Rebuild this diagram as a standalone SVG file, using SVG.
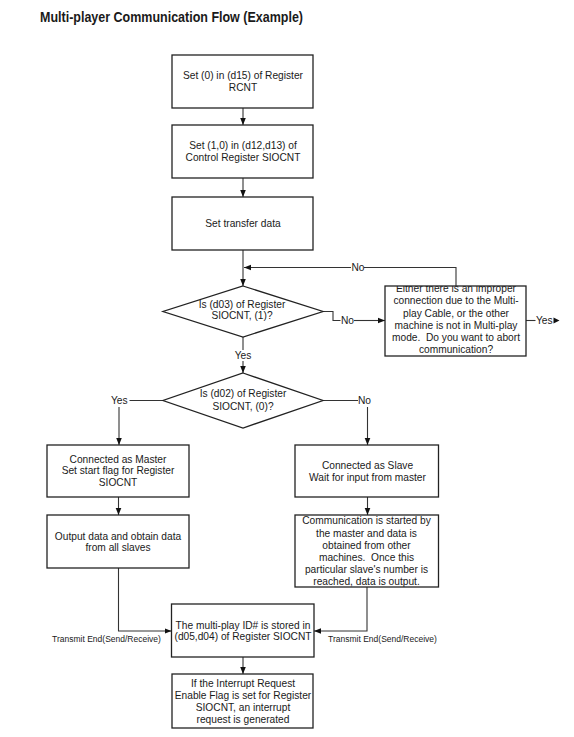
<svg xmlns="http://www.w3.org/2000/svg" width="574" height="737" viewBox="0 0 574 737">
<style>
text{font-family:"Liberation Sans",Arial,sans-serif;fill:#1a1a1a}
.t{font-size:10.2px;text-anchor:middle}
.l{font-size:10.2px}
.s{font-size:8.5px;text-anchor:middle}
.box{fill:#fff;stroke:#222;stroke-width:1.3}
.bd{fill:none;stroke:#222;stroke-width:1.3}
.c{fill:none;stroke:#333;stroke-width:1.1}
</style>
<defs>
<marker id="ah" viewBox="0 0 10 10" refX="10" refY="5" markerWidth="7" markerHeight="7" orient="auto" markerUnits="userSpaceOnUse"><path d="M0,1 L10,5 L0,9 z" fill="#111"/></marker>
<clipPath id="clipR1"><rect x="385" y="286" width="141" height="70"/></clipPath>
<clipPath id="clipR2"><rect x="295" y="515" width="143.5" height="72"/></clipPath>
</defs>
<rect width="574" height="737" fill="#fff"/>
<text x="40" y="22" font-size="13.8" font-weight="bold" textLength="263" lengthAdjust="spacingAndGlyphs">Multi-player Communication Flow (Example)</text>

<g id="connectors">
<line class="c" x1="243" y1="108" x2="243" y2="125" marker-end="url(#ah)"/>
<line class="c" x1="243" y1="178" x2="243" y2="197" marker-end="url(#ah)"/>
<line class="c" x1="243" y1="250" x2="243" y2="286" marker-end="url(#ah)"/>
<polyline class="c" points="456,286 456,267.5 364,267.5"/>
<line class="c" x1="351" y1="267.5" x2="244" y2="267.5" marker-end="url(#ah)"/>
<text class="l" x="351.5" y="271.1">No</text>
<polyline class="c" points="323,311.5 333,311.5 333,320.5 340.5,320.5"/>
<text class="l" x="341" y="324.1">No</text>
<line class="c" x1="354" y1="320.5" x2="385" y2="320.5" marker-end="url(#ah)"/>
<line class="c" x1="526" y1="320.5" x2="535.5" y2="320.5"/>
<text class="l" x="536" y="324.1">Yes</text>
<path d="M553.5,317.5 L559.5,320.5 L553.5,323.5 z" fill="#111"/>
<line class="c" x1="243" y1="337" x2="243" y2="350"/>
<text class="t" x="243" y="358.6">Yes</text>
<line class="c" x1="243" y1="361" x2="243" y2="373" marker-end="url(#ah)"/>
<line class="c" x1="163" y1="400.5" x2="129.5" y2="400.5"/>
<text class="l" x="111" y="404.1">Yes</text>
<line class="c" x1="119" y1="407" x2="119" y2="445" marker-end="url(#ah)"/>
<line class="c" x1="323" y1="400.5" x2="358" y2="400.5"/>
<text class="l" x="358" y="404.1">No</text>
<line class="c" x1="367.5" y1="407" x2="367.5" y2="445" marker-end="url(#ah)"/>
<line class="c" x1="118.5" y1="497" x2="118.5" y2="515" marker-end="url(#ah)"/>
<line class="c" x1="367.5" y1="497" x2="367.5" y2="515" marker-end="url(#ah)"/>
<polyline class="c" points="118.5,568 118.5,631 171.5,631" marker-end="url(#ah)"/>
<polyline class="c" points="367,587 367,631 314,631" marker-end="url(#ah)"/>
<text class="s" x="106.5" y="642.3">Transmit End(Send/Receive)</text>
<text class="s" x="382.5" y="642.3">Transmit End(Send/Receive)</text>
<line class="c" x1="243" y1="657" x2="243" y2="674" marker-end="url(#ah)"/>
</g>

<g id="n1">
<rect class="box" x="172" y="55" width="141" height="53"/>
<text class="t" x="243" y="79.3">Set (0) in (d15) of Register</text>
<text class="t" x="243" y="90.6">RCNT</text>
</g>
<g id="n2">
<rect class="box" x="172" y="125" width="141" height="53"/>
<text class="t" x="243" y="149.3">Set (1,0) in (d12,d13) of</text>
<text class="t" x="243" y="161.3">Control Register SIOCNT</text>
</g>
<g id="n3">
<rect class="box" x="172" y="197" width="141" height="53"/>
<text class="t" x="243" y="226.6">Set transfer data</text>
</g>
<g id="d1">
<polygon class="box" points="243,286 323,311.5 243,337 163,311.5"/>
<text class="t" x="242" y="307.8">Is (d03) of Register</text>
<text class="t" x="242" y="319.3">SIOCNT, (1)?</text>
</g>
<g id="r1">
<rect x="385" y="286" width="141" height="70" fill="#fff"/>
<g clip-path="url(#clipR1)">
<text class="t" x="456" y="292">Either there is an improper</text>
<text class="t" x="456" y="304.4">connection due to the Multi-</text>
<text class="t" x="456" y="316.8">play Cable, or the other</text>
<text class="t" x="456" y="329.2">machine is not in Multi-play</text>
<text class="t" x="456" y="341.4">mode.&#160; Do you want to abort</text>
<text class="t" x="456" y="353.4">communication?</text>
</g>
<rect class="bd" x="385" y="286" width="141" height="70"/>
</g>
<g id="d2">
<polygon class="box" points="243,373 323,400.5 243,428 163,400.5"/>
<text class="t" x="243" y="397">Is (d02) of Register</text>
<text class="t" x="243" y="409.6">SIOCNT, (0)?</text>
</g>
<g id="m1">
<rect class="box" x="47" y="445" width="142" height="52"/>
<text class="t" x="118" y="462.6">Connected as Master</text>
<text class="t" x="118" y="474.4">Set start flag for Register</text>
<text class="t" x="118" y="486.2">SIOCNT</text>
</g>
<g id="s1">
<rect class="box" x="295" y="445" width="143.5" height="52"/>
<text class="t" x="367.5" y="468.6">Connected as Slave</text>
<text class="t" x="367.5" y="480.9">Wait for input from master</text>
</g>
<g id="m2">
<rect class="box" x="47" y="515" width="142" height="53"/>
<text class="t" x="118" y="539.6">Output data and obtain data</text>
<text class="t" x="118" y="550.8">from all slaves</text>
</g>
<g id="s2">
<rect x="295" y="515" width="143.5" height="72" fill="#fff"/>
<g clip-path="url(#clipR2)">
<text class="t" x="366.5" y="524.4">Communication is started by</text>
<text class="t" x="366.5" y="536.5">the master and data is</text>
<text class="t" x="366.5" y="548.6">obtained from other</text>
<text class="t" x="366.5" y="560.7">machines.&#160; Once this</text>
<text class="t" x="366.5" y="572.8">particular slave's number is</text>
<text class="t" x="366.5" y="584.9">reached, data is output.</text>
</g>
<rect class="bd" x="295" y="515" width="143.5" height="72"/>
</g>
<g id="id">
<rect class="box" x="171.5" y="604" width="142.5" height="53"/>
<text class="t" x="243" y="629.3">The multi-play ID# is stored in</text>
<text class="t" x="243" y="640.3">(d05,d04) of Register SIOCNT</text>
</g>
<g id="irq">
<rect class="box" x="172" y="674" width="141" height="54"/>
<text class="t" x="243" y="687.1">If the Interrupt Request</text>
<text class="t" x="243" y="698.9">Enable Flag is set for Register</text>
<text class="t" x="243" y="710.7">SIOCNT, an interrupt</text>
<text class="t" x="243" y="722.5">request is generated</text>
</g>
</svg>
